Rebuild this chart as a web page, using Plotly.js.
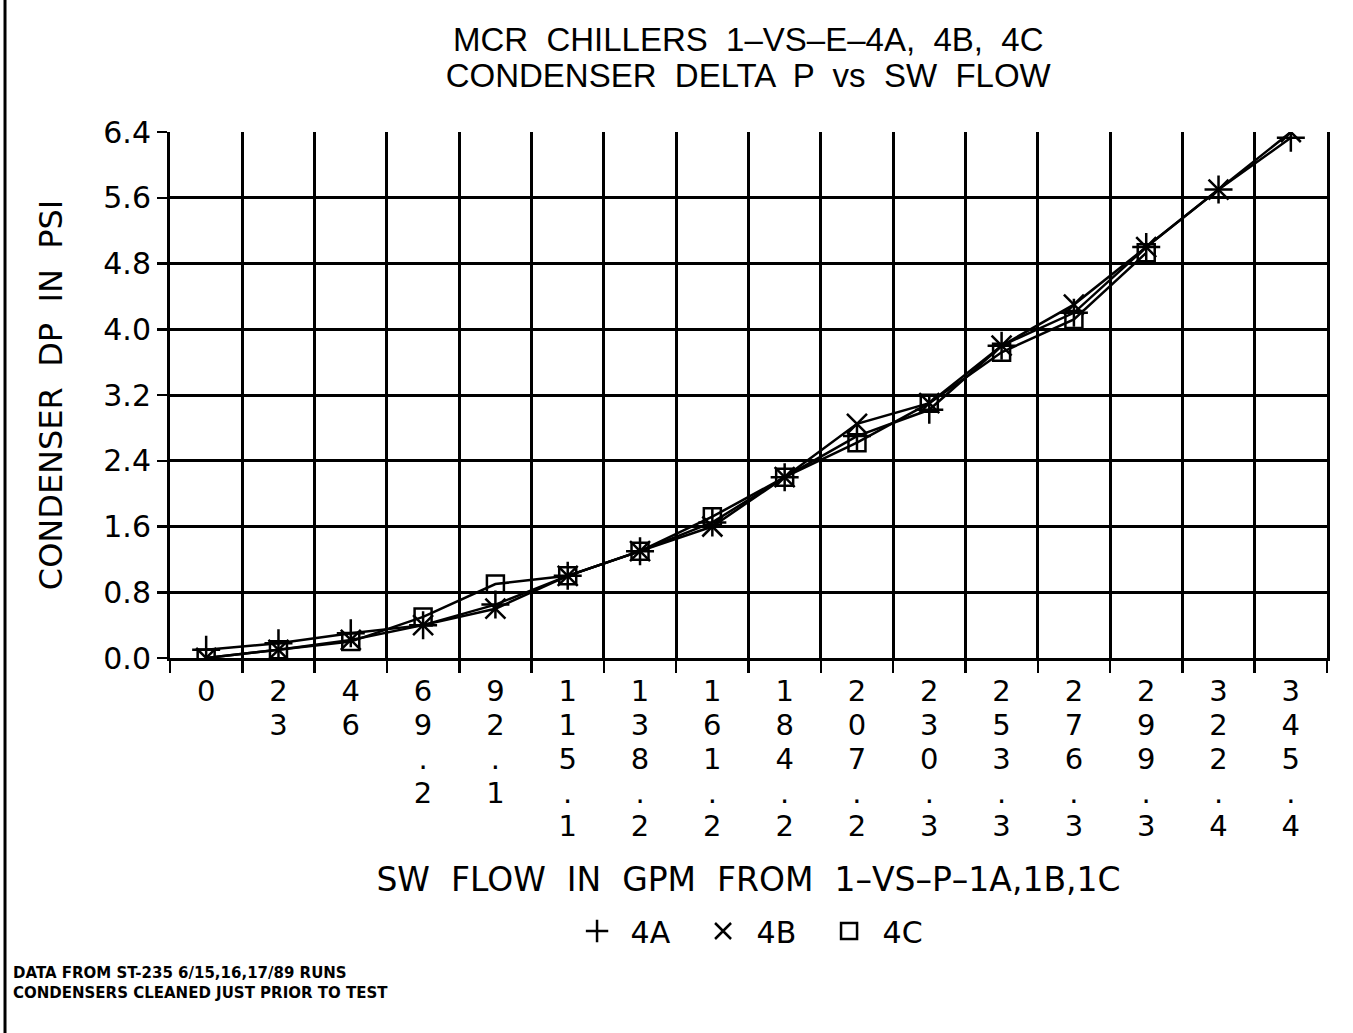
<!DOCTYPE html>
<html>
<head>
<meta charset="utf-8">
<script src="https://cdn.plot.ly/plotly-3.0.1.min.js"></script>
<style>
html,body{margin:0;padding:0;background:#fff;}
#chart{width:1353px;height:1033px;}
</style>
</head>
<body>
<div id="chart"></div>
<script>
// SW flow categories (GPM)
const flowLabels = ["0","23","46","69.2","92.1","115.1","138.2","161.2","184.2","207.2","230.3","253.3","276.3","299.3","322.4","345.4"];
// Condenser delta P (PSI)
const dp4A = [0.10, 0.18, 0.30, 0.40, 0.65, 1.00, 1.30, 1.65, 2.20, 2.70, 3.02, 3.80, 4.20, 5.00, 5.70, 6.33];
const dp4B = [0.00, 0.10, 0.22, 0.40, 0.60, 1.00, 1.30, 1.60, 2.20, 2.85, 3.10, 3.80, 4.30, 5.00, 5.70, 6.40];
const dp4C = [0.00, 0.10, 0.20, 0.50, 0.90, 1.00, 1.30, 1.72, 2.20, 2.62, 3.10, 3.72, 4.12, 4.93, null, null];
const seriesNames = ["4A", "4B", "4C"];

const FONT = "'DejaVu Sans', Verdana, sans-serif";
const TFONT = "Arial, 'Liberation Sans', sans-serif";
const big = (s, px) => '<span style="font-size:' + px + 'px">' + s + '</span>';
const tickText = flowLabels.map(s => s.split("").map(c => big(c, 29)).join("<br>"));

const series = [dp4A, dp4B, dp4C];
const symbols = ["cross-thin-open", "x-thin-open", "square-open"];
const sizes = [20, 20, 17];
const traces = [];
series.forEach((ys, i) => {
  traces.push({
    x: flowLabels, y: ys, type: "scatter", mode: "lines",
    line: {color: "#000", width: 2.5}, showlegend: false, hoverinfo: "skip", connectgaps: false
  });
});
series.forEach((ys, i) => {
  traces.push({
    x: flowLabels, y: ys, type: "scatter", mode: "markers", name: seriesNames[i],
    marker: {symbol: symbols[i], size: sizes[i], color: "#000", line: {color: "#000", width: 2.5}}
  });
});

const layout = {
  width: 1353, height: 1033,
  paper_bgcolor: "#fff", plot_bgcolor: "#fff",
  margin: {l: 170, r: 26, t: 132, b: 375},
  font: {family: FONT, color: "#000"},
  title: {
    text: big("MCR  CHILLERS  1–VS–E–4A,  4B,  4C", 33) + "<br>" + big("CONDENSER  DELTA  P  vs  SW  FLOW", 33),
    font: {family: TFONT, size: 28, color: "#000"},
    x: 0.553, xanchor: "center", y: 0.951, yanchor: "middle"
  },
  xaxis: {
    type: "category",
    tickmode: "array", tickvals: flowLabels, ticktext: tickText,
    tickson: "boundaries",
    range: [-0.5, 15.5],
    showgrid: true, gridcolor: "#000", gridwidth: 3,
    showline: true, linecolor: "#000", linewidth: 3,
    ticks: "outside", ticklen: 12, tickwidth: 2.5, tickcolor: "#000",
    ticklabelstandoff: 9,
    tickangle: 0,
    tickfont: {family: FONT, size: 26, color: "#000"},
    title: {text: "SW  FLOW  IN  GPM  FROM  1–VS–P–1A,1B,1C", font: {family: FONT, size: 33, color: "#000"}, standoff: 26},
    zeroline: false, fixedrange: true
  },
  yaxis: {
    range: [0, 6.4], dtick: 0.8, tick0: 0, tickformat: ".1f",
    showgrid: true, gridcolor: "#000", gridwidth: 3,
    showline: true, linecolor: "#000", linewidth: 3, mirror: true,
    ticks: "outside", ticklen: 10, tickwidth: 2.5, tickcolor: "#000",
    tickfont: {family: FONT, size: 30, color: "#000"},
    title: {text: "CONDENSER  DP  IN  PSI", font: {family: FONT, size: 32, color: "#000"}, standoff: 32},
    zeroline: false, fixedrange: true
  },
  legend: {
    orientation: "h", x: 0.5035, xanchor: "center", y: -0.519, yanchor: "middle",
    font: {family: FONT, size: 30, color: "#000"},
    itemwidth: 57, entrywidth: 54, entrywidthmode: "pixels",
    tracegroupgap: 0, bgcolor: "rgba(0,0,0,0)"
  },
  shapes: [
    {type: "line", xref: "paper", yref: "paper", x0: -0.1426, x1: -0.1426, y0: -0.713, y1: 1.26, line: {color: "#000", width: 3}}
  ],
  annotations: [
    {text: "<b>DATA FROM ST-235 6/15,16,17/89 RUNS<br>CONDENSERS CLEANED JUST PRIOR TO TEST</b>",
     xref: "paper", yref: "paper", x: -0.137, y: -0.577, xanchor: "left", yanchor: "top", align: "left", showarrow: false,
     font: {family: FONT, size: 15, color: "#000"}}
  ]
};

Plotly.newPlot("chart", traces, layout, {displayModeBar: false, staticPlot: true});
</script>
</body>
</html>
